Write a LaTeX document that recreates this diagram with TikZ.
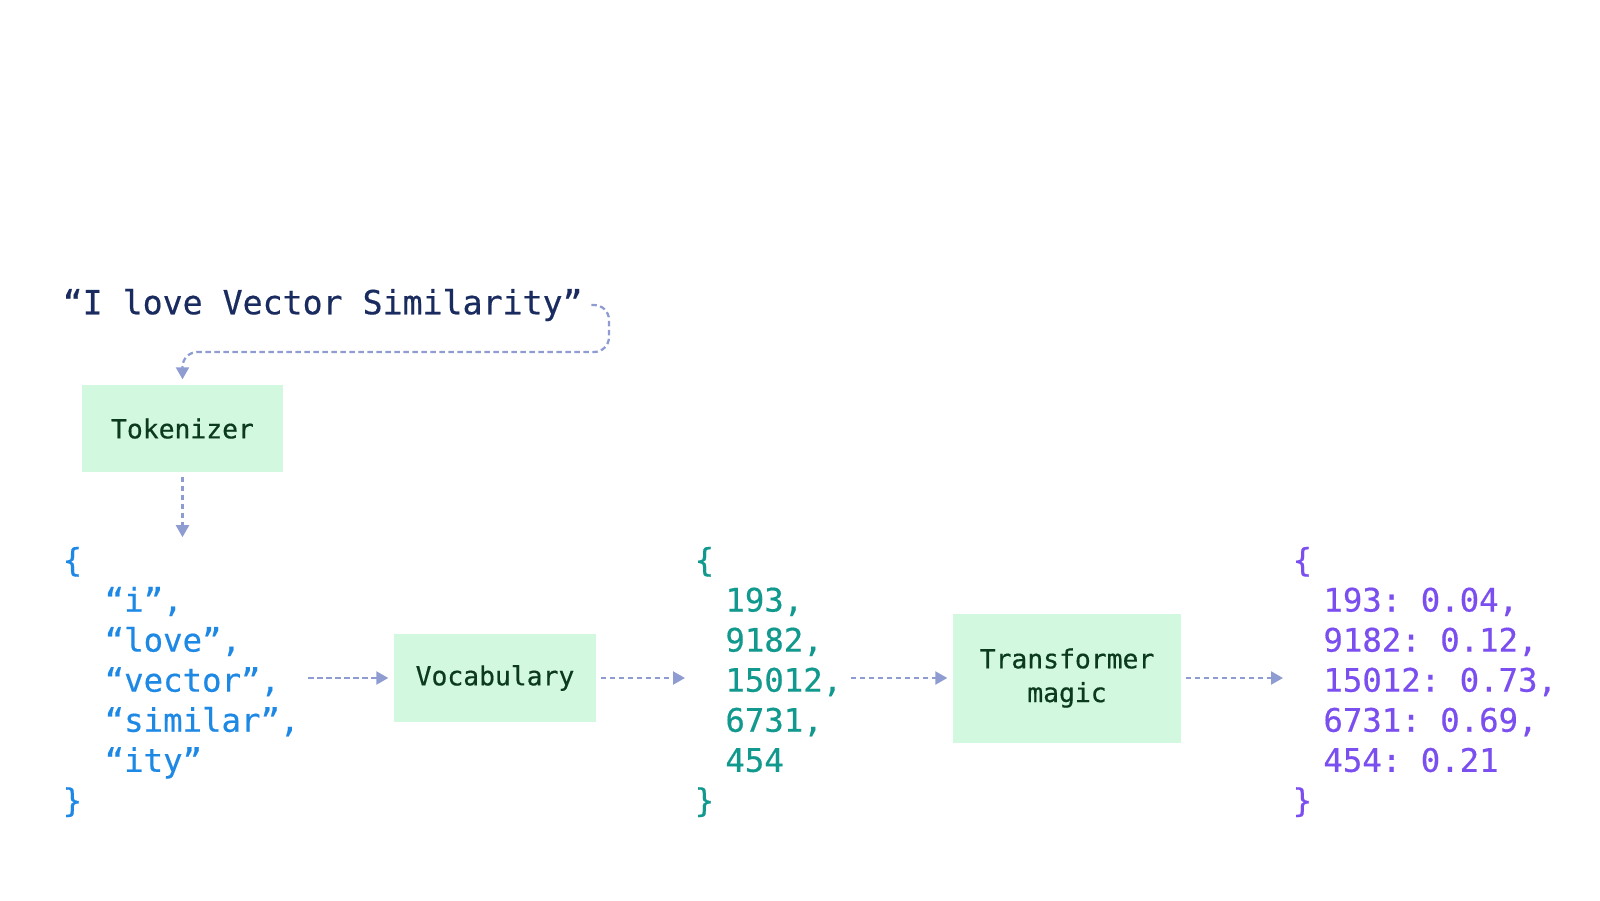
\documentclass[tikz,border=0pt]{standalone}
\usepackage{fontspec}
\setmonofont{DejaVu Sans Mono}[FakeBold=0.5]
\usetikzlibrary{arrows.meta,calc}
\definecolor{navy}{HTML}{1A2B5F}
\definecolor{tokblue}{HTML}{1E88E5}
\definecolor{idteal}{HTML}{11998E}
\definecolor{wpurple}{HTML}{7B4EF0}
\definecolor{boxgreen}{HTML}{D3F8E0}
\definecolor{boxtext}{HTML}{0C3A1F}
\definecolor{flowblue}{HTML}{8E9CD2}
\newcommand{\pad}[1][1.3em]{\hspace*{#1}}
\tikzset{
  box/.style={fill=boxgreen, text=boxtext, inner sep=0pt, align=center, font=\ttfamily\fontsize{7.5}{9.6}\selectfont},
  code/.style={anchor=west, align=left, inner sep=0.04cm, font=\ttfamily\fontsize{9.2}{11.4}\selectfont},
  flow/.style={draw=flowblue, line width=0.65pt, dash pattern=on 0.055cm off 0.035cm, -{Triangle[length=0.12cm,width=0.13cm]}, shorten <=0.04cm, shorten >=0.05cm},
}
\begin{document}
\begin{tikzpicture}
\useasboundingbox (0,0) rectangle (16,9);

\node[code, text=navy, font=\ttfamily\fontsize{9.45}{11.4}\selectfont] (sentence) at (0.58,5.95) {“I love Vector Similarity”};

\node[box, minimum width=2.01cm, minimum height=0.87cm] (tokenizer) at (1.825,4.715) {Tokenizer};
\node[box, minimum width=2.02cm, minimum height=0.88cm] (vocab) at (4.95,2.22) {Vocabulary};
\node[box, minimum width=2.28cm, minimum height=1.29cm] (magic) at (10.67,2.22) {Transformer\\magic};

\node[code, text=tokblue] (tokens) at (0.58,2.18) {\{\\\pad“i”,\\\pad“love”,\\\pad“vector”,\\\pad“similar”,\\\pad“ity”\\\}};
\node[code, text=idteal] (ids) at (6.90,2.18) {\{\\\pad[0.95em]193,\\\pad[0.95em]9182,\\\pad[0.95em]15012,\\\pad[0.95em]6731,\\\pad[0.95em]454\\\}};
\node[code, text=wpurple] (weights) at (12.88,2.18) {\{\\\pad[0.95em]193: 0.04,\\\pad[0.95em]9182: 0.12,\\\pad[0.95em]15012: 0.73,\\\pad[0.95em]6731: 0.69,\\\pad[0.95em]454: 0.21\\\}};

\coordinate (bend) at (6.09,5.48);
\draw[flow, rounded corners=0.15cm] (sentence.east) -| (bend) -| (tokenizer.north);
\draw[flow] (tokenizer.south) -- (tokenizer.south |- tokens.north);
\draw[flow] (tokens.east |- vocab.west) -- (vocab.west);
\draw[flow] (vocab.east) -- (ids.west |- vocab.east);
\draw[flow] (ids.east |- magic.west) -- (magic.west);
\draw[flow] (magic.east) -- (weights.west |- magic.east);
\end{tikzpicture}
\end{document}
